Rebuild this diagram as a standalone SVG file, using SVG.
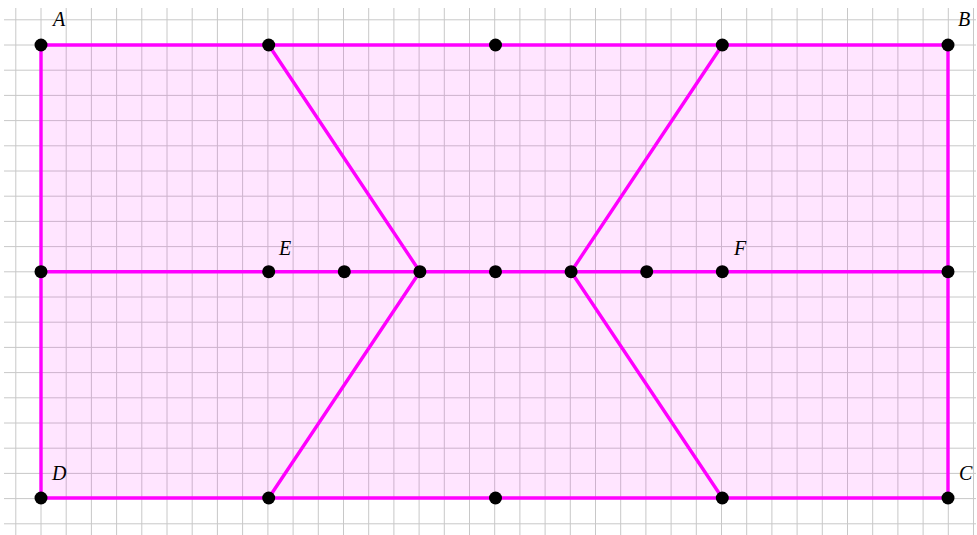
<svg xmlns="http://www.w3.org/2000/svg" width="977" height="535" viewBox="0 0 977 535">
<style>
.g{stroke:#c8c8c8;stroke-width:1;fill:none}
.e{stroke:#ff00ff;stroke-width:3.4;fill:none;stroke-linecap:round}
.d{fill:#000}
.l{font-family:"Liberation Serif",serif;font-style:italic;font-size:20px;fill:#000}
</style>
<rect x="4" y="8" width="972" height="527" fill="white"/>
<g id="grid-lines" class="g">
<path d="M15.8 8V535M41 8V535M66.2 8V535M91.4 8V535M116.6 8V535M141.8 8V535M167 8V535M192.2 8V535M217.4 8V535M242.6 8V535M267.9 8V535M293.1 8V535M318.3 8V535M343.5 8V535M368.7 8V535M393.9 8V535M419.1 8V535M444.3 8V535M469.5 8V535M494.7 8V535M519.9 8V535M545.1 8V535M570.3 8V535M595.5 8V535M620.7 8V535M645.9 8V535M671.1 8V535M696.3 8V535M721.5 8V535M746.7 8V535M771.9 8V535M797.1 8V535M822.3 8V535M847.5 8V535M872.7 8V535M897.9 8V535M923.1 8V535M948.3 8V535M973.5 8V535"/>
<path d="M4 19.8H976M4 45H976M4 70.2H976M4 95.4H976M4 120.6H976M4 145.8H976M4 171H976M4 196.2H976M4 221.4H976M4 246.6H976M4 271.8H976M4 297H976M4 322.2H976M4 347.4H976M4 372.6H976M4 397.8H976M4 423H976M4 448.2H976M4 473.4H976M4 498.6H976M4 523.8H976"/>
</g>
<rect id="region" x="41" y="45" width="907" height="453" fill="#ff00ff" fill-opacity="0.1"/>
<g id="connectors" class="e">
<path d="M41 45H948V498H41Z"/>
<path d="M41 271.7H948"/>
<path d="M268.7 45L419.9 271.7L268.7 498"/>
<path d="M722.3 45L571.1 271.7L722.3 498"/>
</g>
<g id="A"><circle class="d" cx="41" cy="45" r="6.5"/><text class="l" x="53" y="26">A</text></g>
<g id="B"><circle class="d" cx="948" cy="45" r="6.5"/><text class="l" x="958" y="26">B</text></g>
<g id="C"><circle class="d" cx="948" cy="498" r="6.5"/><text class="l" x="959" y="480">C</text></g>
<g id="D"><circle class="d" cx="41" cy="498" r="6.5"/><text class="l" x="52" y="480">D</text></g>
<g id="E"><circle class="d" cx="268.7" cy="271.7" r="6.5"/><text class="l" x="279" y="255">E</text></g>
<g id="F"><circle class="d" cx="722.3" cy="271.7" r="6.5"/><text class="l" x="734" y="255">F</text></g>
<g id="top-1"><circle class="d" cx="268.7" cy="45" r="6.5"/></g>
<g id="top-2"><circle class="d" cx="495.5" cy="45" r="6.5"/></g>
<g id="top-3"><circle class="d" cx="722.3" cy="45" r="6.5"/></g>
<g id="bot-1"><circle class="d" cx="268.7" cy="498" r="6.5"/></g>
<g id="bot-2"><circle class="d" cx="495.5" cy="498" r="6.5"/></g>
<g id="bot-3"><circle class="d" cx="722.3" cy="498" r="6.5"/></g>
<g id="mid-left"><circle class="d" cx="41" cy="271.7" r="6.5"/></g>
<g id="mid-right"><circle class="d" cx="948" cy="271.7" r="6.5"/></g>
<g id="mid-1"><circle class="d" cx="344.3" cy="271.7" r="6.5"/></g>
<g id="mid-2"><circle class="d" cx="419.9" cy="271.7" r="6.5"/></g>
<g id="mid-3"><circle class="d" cx="495.5" cy="271.7" r="6.5"/></g>
<g id="mid-4"><circle class="d" cx="571.1" cy="271.7" r="6.5"/></g>
<g id="mid-5"><circle class="d" cx="646.7" cy="271.7" r="6.5"/></g>
</svg>
